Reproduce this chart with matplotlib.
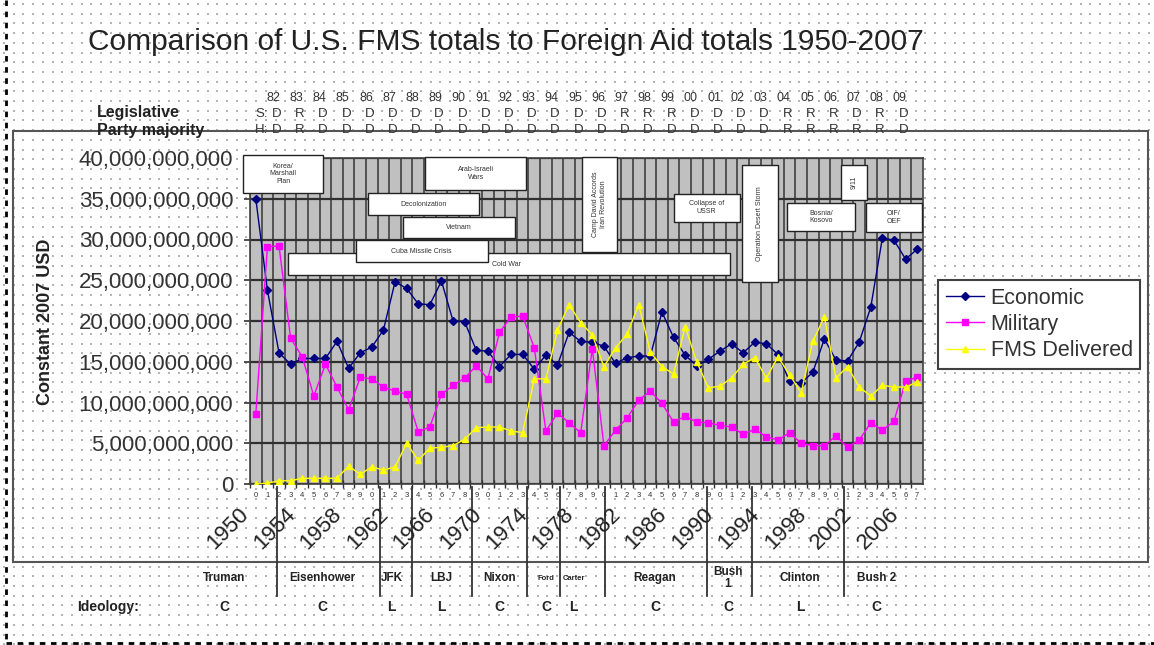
import numpy as np
import matplotlib.pyplot as plt
import matplotlib.transforms as mtransforms
from matplotlib.patches import Rectangle
from matplotlib.ticker import FuncFormatter

plt.rcParams['font.family'] = ['Liberation Sans', 'DejaVu Sans']

# --- Data (billions of constant 2007 USD) ---
years = np.arange(1950, 2008)
economic = [35.0, 23.8, 16.1, 14.7, 15.4, 15.4, 15.4, 17.5, 14.2, 16.1,
            16.8, 18.9, 24.8, 24.0, 22.1, 22.0, 24.9, 20.0, 19.9, 16.4,
            16.3, 14.4, 15.9, 15.9, 14.1, 15.8, 14.6, 18.6, 17.5, 17.4,
            16.9, 14.8, 15.5, 15.7, 15.7, 21.1, 18.0, 15.8, 14.5, 15.3,
            16.3, 17.2, 16.1, 17.4, 17.2, 15.9, 12.6, 12.4, 13.7, 17.8,
            15.2, 15.1, 17.4, 21.7, 30.2, 29.9, 27.6, 28.8]
military = [8.6, 29.1, 29.2, 17.9, 15.6, 10.8, 14.7, 11.9, 9.1, 13.1,
            12.9, 11.9, 11.4, 11.0, 6.4, 7.0, 11.0, 12.1, 13.0, 14.5,
            12.9, 18.6, 20.5, 20.6, 16.7, 6.5, 8.7, 7.5, 6.3, 16.6,
            4.7, 6.6, 8.1, 10.3, 11.4, 9.9, 7.6, 8.3, 7.6, 7.5,
            7.2, 7.0, 6.1, 6.7, 5.8, 5.4, 6.3, 5.0, 4.7, 4.7,
            5.9, 4.5, 5.4, 7.5, 6.6, 7.7, 12.6, 13.1]
fms = [0.0, 0.1, 0.4, 0.4, 0.7, 0.7, 0.7, 0.7, 2.2, 1.2,
       2.1, 1.7, 2.1, 5.0, 2.9, 4.4, 4.5, 4.7, 5.5, 6.9,
       7.0, 7.0, 6.5, 6.3, 12.9, 12.9, 18.9, 22.0, 19.8, 18.3,
       14.4, 16.7, 18.4, 22.0, 16.2, 14.4, 13.5, 19.3, 15.0, 11.8,
       12.0, 13.0, 14.7, 15.5, 13.0, 15.6, 13.4, 11.2, 17.5, 20.5,
       13.0, 14.4, 11.9, 10.8, 12.1, 11.9, 11.9, 12.5]

congress = ['82', '83', '84', '85', '86', '87', '88', '89', '90', '91',
            '92', '93', '94', '95', '96', '97', '98', '99', '00', '01',
            '02', '03', '04', '05', '06', '07', '08', '09']
senate = list('DRDDDDDDD' + 'DDDDDD' + 'RRR' + 'DDDD' + 'RRR' + 'DRD')
house = list('DRDDDDDDD' + 'D' * 13 + 'RRRRR' + 'D')

presidents = ['Truman', 'Eisenhower', 'JFK', 'LBJ', 'Nixon', 'Ford', 'Carter',
              'Reagan', 'Bush\n1', 'Clinton', 'Bush 2']
ideology = ['C', 'C', 'L', 'L', 'C', 'C', 'L', 'C', 'C', 'L', 'C']
pres_x = [1947.3, 1955.7, 1961.7, 1966.0, 1971.0, 1975.0, 1977.4,
          1984.4, 1990.7, 1996.9, 2003.5]
term_breaks = [1951.8, 1960.7, 1963.5, 1968.6, 1973.4, 1976.2, 1980.1,
               1988.9, 1992.8, 2000.7]

# events: label, x0, x1, top (bn), bottom (bn), rotation
events = [
    ('Cold War', 1952.8, 1990.9, 28.3, 25.6, 0),
    ('Korea/\nMarshall\nPlan', 1948.9, 1955.8, 40.4, 35.7, 0),
    ('Arab-Israeli\nWars', 1964.6, 1973.3, 40.1, 36.1, 0),
    ('Decolonization', 1959.7, 1969.2, 35.7, 33.0, 0),
    ('Vietnam', 1962.7, 1972.3, 32.8, 30.2, 0),
    ('Cuba Missile Crisis', 1958.6, 1970.0, 29.9, 27.2, 0),
    ('Camp David Accords\nIran Revolution', 1978.1, 1981.1, 40.1, 28.5, 90),
    ('Collapse of\nUSSR', 1986.0, 1991.7, 35.6, 32.2, 0),
    ('Operation Desert Storm', 1991.9, 1995.0, 39.1, 24.8, 90),
    ('Bosnia/\nKosovo', 1995.8, 2001.6, 34.5, 31.0, 0),
    ('9/11', 2000.4, 2002.7, 39.1, 34.9, 90),
    ('OIF/\nOEF', 2002.6, 2007.4, 34.5, 30.9, 0),
]

W, H = 1154, 645
fig = plt.figure(figsize=(W / 100, H / 100), dpi=100)

# background layer in pixel coordinates
bg = fig.add_axes([0, 0, 1, 1], zorder=-10)
bg.set_xlim(0, W)
bg.set_ylim(H, 0)
bg.axis('off')
gx, gy = np.meshgrid(np.arange(4, W, 9.7), np.arange(4, H, 9.7))
bg.scatter(gx.ravel(), gy.ravel(), s=0.7, color='#b4b4b4', marker='s', lw=0)
bg.plot([6, 6], [0, 643], color='black', lw=2, ls=(0, (2, 2)))
bg.plot([6, W], [643, 643], color='black', lw=2, ls=(0, (2, 2)))
bg.add_patch(Rectangle((13, 131), 1135, 431, fill=False, ec='#555555', lw=1.5))

# main plot
ax = fig.add_axes([250 / W, 1 - 484 / H, 673 / W, 326 / H])
ax.set_facecolor('#c0c0c0')
e_line, = ax.plot(years, np.array(economic) * 1e9, color='#000080', lw=1.0,
                  marker='D', ms=4, zorder=3, label='Economic')
m_line, = ax.plot(years, np.array(military) * 1e9, color='#ff00ff', lw=1.0,
                  marker='s', ms=4.5, zorder=3, label='Military')
f_line, = ax.plot(years, np.array(fms) * 1e9, color='#ffff00', lw=1.0,
                  marker='^', ms=5, zorder=3, label='FMS Delivered')

ax.set_xlim(1949.5, 2007.5)
ax.set_ylim(0, 40e9)
ax.set_yticks(np.arange(0, 40e9 + 1, 5e9))
ax.yaxis.set_major_formatter(FuncFormatter(lambda v, p: f'{int(v):,}'))
ax.tick_params(axis='y', labelsize=16, labelcolor='#333333', length=4,
               width=1.2, pad=8, color='#333333')
ax.set_xticks(years)
ax.set_xticklabels([str(y % 10) for y in years], fontsize=5.5, color='#333333')
ax.set_xticks(years - 0.5, minor=True)
ax.tick_params(axis='x', which='major', length=0, pad=6)
ax.tick_params(axis='x', which='minor', length=6, direction='inout',
               width=1, color='#333333')
ax.grid(axis='y', which='major', color='#303030', lw=1.6)
ax.grid(axis='x', which='minor', color='#404040', lw=1.2)
ax.set_axisbelow(True)
for s in ax.spines.values():
    s.set_color('#404040')
    s.set_linewidth(1.2)

# event boxes
for lab, x0, x1, top, bot, rot in events:
    ax.add_patch(Rectangle((x0, bot * 1e9), x1 - x0, (top - bot) * 1e9,
                           fc='white', ec='#222222', lw=1, zorder=4, clip_on=False))
    tx = 1971.6 if lab == 'Cold War' else (x0 + x1) / 2
    ax.text(tx, (top + bot) / 2 * 1e9, lab, fontsize=5, ha='center',
            va='center', rotation=rot, color='#333333', zorder=5,
            linespacing=1.1)

# rotated year labels
xfig = mtransforms.blended_transform_factory(ax.transData, bg.transData)
for y in years[::4]:
    ax.text(y - 1.5, 504, str(y), transform=xfig, rotation=45, fontsize=16,
            ha='right', va='top', rotation_mode='anchor', color='#222222')

# president term dividers and labels
for b in term_breaks:
    bg.plot([b, b], [487, 596], color='#333333', lw=1.3, transform=xfig)
for name, px, ideo in zip(presidents, pres_x, ideology):
    small = name in ('Ford', 'Carter')
    bg.text(px, 578, name, transform=xfig, ha='center', va='center',
            fontsize=5.5 if small else 8.5, fontweight='bold',
            color='#222222', linespacing=0.9)
    bg.text(px, 607, ideo, transform=xfig, ha='center', va='center',
            fontsize=10, fontweight='bold', color='#222222')
bg.text(77, 607, 'Ideology:', fontsize=10, fontweight='bold', va='center',
        color='#222222')

# legislative party header
bg.text(97, 113, 'Legislative', fontsize=11.5, fontweight='bold', va='center',
        color='#222222', zorder=5)
bg.text(97, 130, 'Party majority', fontsize=11.5, fontweight='bold',
        va='center', color='#222222', zorder=5)
bg.text(1950.5, 114, 'S:', transform=xfig, fontsize=9.5, ha='center',
        va='center', color='#333333')
bg.text(1950.5, 130, 'H:', transform=xfig, fontsize=9.5, ha='center',
        va='center', color='#333333')
for i, (c, s, h) in enumerate(zip(congress, senate, house)):
    cx = 1951.5 + 2 * i
    bg.text(cx, 98, c, transform=xfig, fontsize=9, ha='center', va='center',
            color='#333333')
    bg.text(cx + 0.3, 114, s, transform=xfig, fontsize=9.5, ha='center',
            va='center', color='#333333')
    bg.text(cx + 0.3, 130, h, transform=xfig, fontsize=9.5, ha='center',
            va='center', color='#333333')

# title, y label, legend
fig.text(506 / W, 1 - 42 / H,
         'Comparison of U.S. FMS totals to Foreign Aid totals 1950-2007',
         fontsize=21.5, ha='center', va='center', color='#222222')
fig.text(46 / W, 1 - 322 / H, 'Constant 2007 USD', rotation=90, fontsize=13,
         fontweight='bold', ha='center', va='center', color='#222222')
leg = fig.legend(handles=[e_line, m_line, f_line], loc='upper left',
                 bbox_to_anchor=(938 / W, 1 - 280 / H), borderaxespad=0,
                 fontsize=15.5, handlelength=1.8, labelspacing=0.25,
                 borderpad=0.35, handletextpad=0.3, fancybox=False,
                 framealpha=1, edgecolor='#404040')
leg.get_frame().set_linewidth(1.5)
for t in leg.get_texts():
    t.set_color('#333333')

fig.savefig('out.png', dpi=100)
